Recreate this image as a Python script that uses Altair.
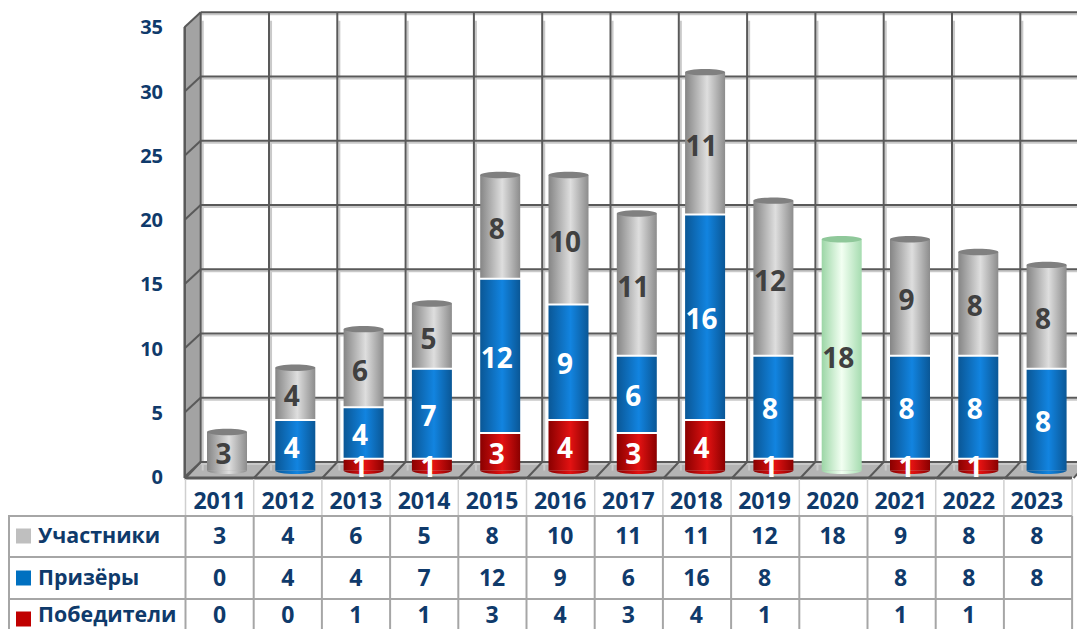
import altair as alt
import pandas as pd

years = list(range(2011, 2024))
participants = [3, 4, 6, 5, 8, 10, 11, 11, 12, 18, 9, 8, 8]
prizers = [0, 4, 4, 7, 12, 9, 6, 16, 8, None, 8, 8, 8]
winners = [0, 0, 1, 1, 3, 4, 3, 4, 1, None, 1, 1, None]
ticks = [0, 5, 10, 15, 20, 25, 30, 35]
row_names = ["Участники", "Призёры", "Победители"]
row_colors = ["#BFBFBF", "#0070C0", "#C00000"]

FONT = "Open Sans"
NAVY = "#0F3A6B"
W, H = 1069, 621
X0, DX = 227.0, 68.3
Y0, DY = 470.5, 12.85
x_dom = [2011 + (8 - X0) / DX, 2011 + (8 + W - X0) / DX]
y_dom = [-(8 + H - Y0) / DY, (Y0 - 8) / DY]
xs = alt.Scale(domain=x_dom, range=[0, W], nice=False, zero=False)
ys = alt.Scale(domain=y_dom, range=[H, 0], nice=False, zero=False)


def X(px):
    return 2011 + (px - X0) / DX


def Y(px):
    return (Y0 - px) / DY


def ex(f):
    return alt.X(f, type="quantitative", scale=xs, axis=None)


def ey(f):
    return alt.Y(f, type="quantitative", scale=ys, axis=None)


def grad(a, b, c, mid=0.55):
    return alt.Gradient(
        gradient="linear",
        x1=0, x2=1, y1=0, y2=0,
        stops=[
            alt.GradientStop(offset=0, color=a),
            alt.GradientStop(offset=mid, color=b),
            alt.GradientStop(offset=1, color=c),
        ],
    )


G_GRAY = grad("#858585", "#DEDEDE", "#8C8C8C")
G_BLUE = grad("#0A5796", "#1284E0", "#0A5796")
G_RED = grad("#8A0000", "#E31212", "#8A0000")
G_GREEN = grad("#9CD6A6", "#F2FFF2", "#A6DCB0", 0.5)

HW = 20 / DX
rows = []
for i, y in enumerate(years):
    w = winners[i] or 0
    p = prizers[i] or 0
    t = participants[i]
    green = y == 2020
    rows.append(dict(y=y, s="w", a=0, b=w, v=w, l=y - HW, r=y + HW))
    rows.append(dict(y=y, s="p", a=w, b=w + p, v=p, l=y - HW, r=y + HW))
    rows.append(dict(y=y, s="n" if green else "t", a=w + p, b=w + p + t, v=t, l=y - HW, r=y + HW))
seg = pd.DataFrame(rows)
seg = seg[seg.v > 0].copy()
seg["m"] = (seg.a + seg.b) / 2

tops = seg[seg.s.isin(["t", "n"])]
bottoms = seg.sort_values("a").groupby("y", as_index=False).first()

layers = []

# walls and floor
wall = pd.DataFrame(dict(x=[X(184.5), X(200.7)], t=[Y(27), Y(12)], b=[Y(478), Y(462)]))
layers.append(
    alt.Chart(wall).mark_area(color="#A3A3A3", opacity=1).encode(ex("x"), ey("t"), y2="b")
)
floor = pd.DataFrame(dict(y=[Y(478), Y(462)], a=[X(185.5), X(200.7)], b=[X(1072), X(1088)]))
layers.append(
    alt.Chart(floor).mark_area(color="#B4B4B4", opacity=1, orient="horizontal").encode(ey("y"), ex("a"), x2="b")
)

# grid
tk = pd.DataFrame(dict(v=ticks, a=[X(200.7)] * 8, b=[X(1088)] * 8, f=[X(184.5)] * 8))
vl = pd.DataFrame(dict(x=[y - 0.5 for y in years] + [2023.5], top=[35] * 14, low=[0] * 14))
LIGHT = "#C9C9C9"
DARK = "#595959"
layers.append(
    alt.Chart(tk).mark_rule(color=LIGHT, strokeWidth=2, yOffset=-6.5).encode(ex("a"), x2="b", y=ey("v"))
)
layers.append(
    alt.Chart(vl).mark_rule(color=LIGHT, strokeWidth=2, xOffset=9.9).encode(ex("x"), ey("top"), y2="low")
)
layers.append(
    alt.Chart(tk).mark_rule(color=DARK, strokeWidth=2, yOffset=-8.5).encode(ex("a"), x2="b", y=ey("v"))
)
layers.append(
    alt.Chart(vl).mark_rule(color=DARK, strokeWidth=2, xOffset=7.85, yOffset=-8.5, y2Offset=-8.5).encode(
        ex("x"), ey("top"), y2="low"
    )
)
layers.append(
    alt.Chart(tk).mark_rule(color=DARK, strokeWidth=2, yOffset=6.5, y2Offset=-8.5).encode(
        ex("f"), x2="a", y=ey("v"), y2="v"
    )
)
layers.append(
    alt.Chart(vl).mark_rule(color=DARK, strokeWidth=2, xOffset=7.85, x2Offset=-7.2, yOffset=-8.5, y2Offset=7.5).encode(
        ex("x"), x2="x", y=ey("low"), y2="low"
    )
)
edge = pd.DataFrame(dict(x=[X(184.7)], t=[Y(27)], b=[Y(478)]))
layers.append(
    alt.Chart(edge).mark_rule(color=DARK, strokeWidth=2.5).encode(ex("x"), ey("t"), y2="b")
)
front = pd.DataFrame(dict(a=[X(184.5)], b=[X(1072)], y=[Y(478)]))
layers.append(
    alt.Chart(front).mark_rule(color=DARK, strokeWidth=3).encode(ex("a"), x2="b", y=ey("y"))
)

# table lines
T = "#A6A6A6"
col_lines = [185.5 + 68.2 * i for i in range(14)]
tv1 = pd.DataFrame(dict(x=[X(p) for p in col_lines], t=Y(479), b=Y(516)))
tv2 = pd.DataFrame(dict(x=[X(p) for p in col_lines], t=Y(516), b=Y(640)))
th = pd.DataFrame(dict(y=[Y(516), Y(557), Y(599)], a=X(8), b=X(1072)))
tl = pd.DataFrame(dict(x=[X(9)], t=Y(516), b=Y(640)))
layers.append(alt.Chart(tv1).mark_rule(color="#CFCFCF", strokeWidth=1.5).encode(ex("x"), ey("t"), y2="b"))
layers.append(alt.Chart(tv2).mark_rule(color=T, strokeWidth=2).encode(ex("x"), ey("t"), y2="b"))
layers.append(alt.Chart(th).mark_rule(color=T, strokeWidth=2).encode(ex("a"), x2="b", y=ey("y")))
layers.append(alt.Chart(tl).mark_rule(color=T, strokeWidth=2).encode(ex("x"), ey("t"), y2="b"))

# table text
col_c = [X(219.7 + 68.1 * i) for i in range(13)]
yrs = pd.DataFrame(dict(x=col_c, y=Y(502), t=[str(v) for v in years]))
cells = []
row_y = [537, 579, 615.5]
swatch_y = [536, 578, 619]
for rn, ry, vals in zip(row_names, row_y, [participants, prizers, winners]):
    for c, v in zip(col_c, vals):
        if v is not None:
            cells.append(dict(x=c, y=Y(ry), t=str(v)))
cells = pd.DataFrame(cells)
names = pd.DataFrame(dict(x=X(38), y=[Y(p) for p in row_y], t=row_names))
sw = pd.DataFrame(dict(x=X(23.5), y=[Y(p) for p in swatch_y], n=row_names))

for d in (yrs, cells):
    layers.append(
        alt.Chart(d).mark_text(font=FONT, fontWeight="bold", fontSize=23, color=NAVY, baseline="middle", align="center").encode(
            ex("x"), ey("y"), text="t:N"
        )
    )
layers.append(
    alt.Chart(names).mark_text(font=FONT, fontWeight="bold", fontSize=21.4, color=NAVY, baseline="middle", align="left").encode(
        ex("x"), ey("y"), text="t:N"
    )
)
layers.append(
    alt.Chart(sw).mark_square(size=225, opacity=1).encode(
        ex("x"), ey("y"),
        color=alt.Color("n:N", scale=alt.Scale(domain=row_names, range=row_colors), legend=None),
    )
)

# cylinders
FILL = {"t": G_GRAY, "p": G_BLUE, "w": G_RED, "n": G_GREEN}
CAP = {"t": "#808080", "n": "#8FC89A"}
BOTTOM = "M-1,0 A1,0.175 0 0 0 1,0 Z"
ELL = "M-1,0 A1,0.16 0 1 0 1,0 A1,0.16 0 1 0 -1,0 Z"
for s in ["t", "n", "p", "w"]:
    d = bottoms[bottoms.s == s]
    if len(d):
        layers.append(
            alt.Chart(d).mark_point(shape=BOTTOM, size=1600, filled=True, fill=FILL[s], opacity=1, strokeWidth=0).encode(
                x=ex("y"), y=ey("a")
            )
        )
for s in ["t", "n", "p", "w"]:
    mark = (
        alt.Chart(seg[seg.s == s]).mark_rect(fill=FILL[s], opacity=1, y2Offset=2)
        if s in ("p", "w")
        else alt.Chart(seg[seg.s == s]).mark_rect(fill=FILL[s], opacity=1)
    )
    layers.append(mark.encode(ex("l"), x2="r", y=ey("a"), y2="b"))
for s in ["t", "n"]:
    layers.append(
        alt.Chart(tops[tops.s == s]).mark_point(shape=ELL, size=1600, filled=True, fill=CAP[s], opacity=1, strokeWidth=0).encode(
            x=ex("y"), y=ey("b")
        )
    )

# bar labels
dark = seg[seg.s.isin(["t", "n"])]
light = seg[seg.s.isin(["p", "w"])]
for d, c in ((dark, "#404040"), (light, "#FFFFFF")):
    layers.append(
        alt.Chart(d).mark_text(font=FONT, fontWeight="bold", fontSize=28, color=c, baseline="middle", align="center", dx=-3.5, dy=5).encode(
            x=ex("y"), y=ey("m"), text="v:Q"
        )
    )

# value labels
axis_df = pd.DataFrame(dict(v=ticks, x=X(163), t=[str(v) for v in ticks]))
layers.append(
    alt.Chart(axis_df).mark_text(font=FONT, fontWeight="bold", fontSize=20, color=NAVY, baseline="middle", align="right", dy=7.5).encode(
        ex("x"), ey("v"), text="t:N"
    )
)

chart = (
    alt.layer(*layers)
    .properties(width=W, height=H, padding=0, autosize=alt.AutoSizeParams(type="none"), background="white")
    .configure_view(stroke=None)
)
chart.save("out.html", embed_options={"renderer": "svg", "actions": False})
